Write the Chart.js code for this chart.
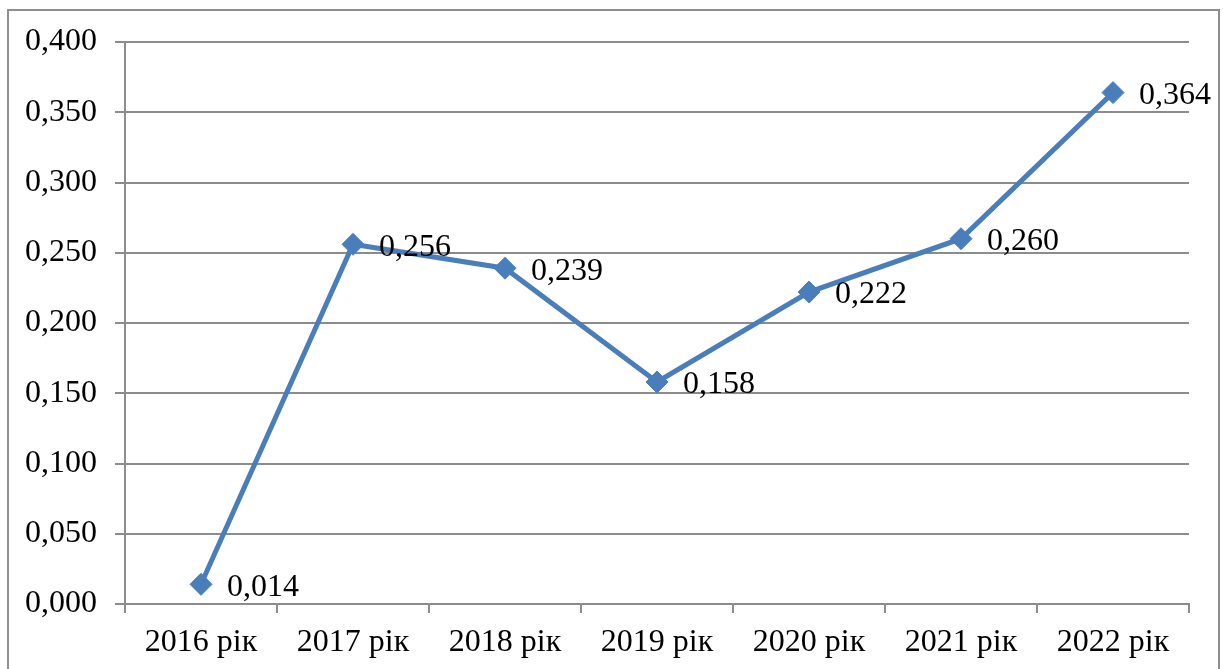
<!DOCTYPE html>
<html>
<head>
<meta charset="utf-8">
<script src="https://cdn.jsdelivr.net/npm/chart.js@4"></script>
<style>
  html, body { margin: 0; padding: 0; background: #fff; overflow: hidden; }
  #wrap { position: relative; width: 1223px; height: 669px; }
  #frame { position: absolute; left: 7px; top: 9px; width: 1209px; height: 700px; border: 2px solid #8e8e8e; }
  canvas { position: absolute; left: 0; top: 0; }
</style>
</head>
<body>
<div id="wrap">
  <div id="frame"></div>
  <canvas id="chart" width="1223" height="669"></canvas>
</div>
<script>
const years = ['2016 рік', '2017 рік', '2018 рік', '2019 рік', '2020 рік', '2021 рік', '2022 рік'];
const values = [0.014, 0.256, 0.239, 0.158, 0.222, 0.260, 0.364];

const BLUE = '#4a7ebb';
const GRID = '#8c8c8c';
const FONT = '"Liberation Serif", "Times New Roman", serif';

function fmt(v) {
    return v.toFixed(3).replace('.', ',');
}

// value labels to the right of each point
const valueLabels = {
    id: 'valueLabels',
    afterDatasetsDraw(chart) {
        const ctx = chart.ctx;
        const meta = chart.getDatasetMeta(0);
        ctx.save();
        ctx.font = '32px ' + FONT;
        ctx.fillStyle = '#000';
        ctx.textAlign = 'left';
        ctx.textBaseline = 'middle';
        meta.data.forEach((pt, i) => {
            ctx.fillText(fmt(values[i]), pt.x + 26, pt.y + 3);
        });
        ctx.restore();
    }
};

new Chart(document.getElementById('chart'), {
    type: 'line',
    data: {
        labels: years,
        datasets: [{
            data: values,
            borderColor: BLUE,
            borderWidth: 5,
            backgroundColor: BLUE,
            pointStyle: 'rectRot',
            pointRadius: 11,
            pointBorderWidth: 1,
            pointBorderColor: BLUE,
            tension: 0
        }]
    },
    options: {
        responsive: false,
        animation: false,
        layout: { padding: { top: 42, right: 34, left: 0, bottom: 0 } },
        plugins: { legend: { display: false }, tooltip: { enabled: false } },
        scales: {
            x: {
                offset: true,
                grid: { offset: true, drawOnChartArea: false, drawTicks: true, tickLength: 9, color: GRID, lineWidth: 2 },
                border: { color: GRID, width: 2 },
                ticks: { color: '#000', font: { family: FONT, size: 32 }, padding: 10, maxRotation: 0 },
                afterFit(scale) { scale.height = 65; }
            },
            y: {
                min: 0,
                max: 0.4,
                ticks: { stepSize: 0.05, color: '#000', font: { family: FONT, size: 32 }, padding: 18, callback: v => fmt(v) },
                grid: { color: GRID, lineWidth: 2, tickLength: 10 },
                border: { color: GRID, width: 2 },
                afterFit(scale) { scale.width = 125; }
            }
        }
    },
    plugins: [valueLabels]
});
</script>
</body>
</html>
